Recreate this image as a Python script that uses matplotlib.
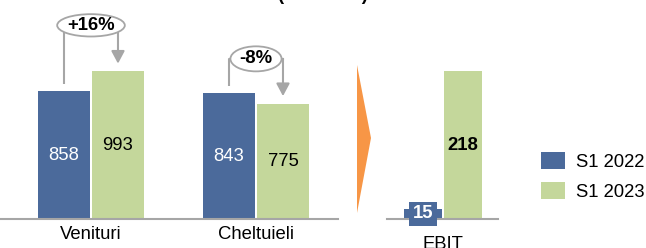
import matplotlib.pyplot as plt
from matplotlib.patches import Ellipse, Polygon, Patch

plt.rcParams['font.family'] = ['Liberation Sans', 'DejaVu Sans']

categories = ['Venituri', 'Cheltuieli']
s1_2022 = [858, 843]
s1_2023 = [993, 775]
changes = ['+16%', '-8%']
ebit_label = ['EBIT']
ebit_2022 = [15]
ebit_2023 = [218]
series = ['S1 2022', 'S1 2023']

BLUE = '#4B6A9B'
GREEN = '#C4D79B'
ORANGE = '#F79646'
GRAY = '#A6A6A6'
FS = 13.3

W, H = 646, 248
fig = plt.figure(figsize=(W / 100, H / 100), dpi=100)


def fx(px):
    return px / W


def fy(py):
    return 1 - py / H


# left panel: revenues / expenses
ax1 = fig.add_axes([0, fy(219), fx(338), 219 / H])
x = list(range(len(categories)))
bw, off = 0.315, 0.1636
ax1.bar([i - off for i in x], s1_2022, bw, color=BLUE)
ax1.bar([i + off for i in x], s1_2023, bw, color=GREEN)
for i in x:
    ax1.text(i - off, s1_2022[i] / 2, str(s1_2022[i]), ha='center', va='center',
             color='white', fontsize=FS)
    ax1.text(i + off, s1_2023[i] / 2, str(s1_2023[i]), ha='center', va='center',
             color='black', fontsize=FS)
ax1.set_xlim(-0.5515, 1.497)
ax1.set_ylim(0, 1470)

# change callouts
callout_y = [1300, 1075]
ell_w = [0.41, 0.31]
ell_h = [150, 168]
for i in x:
    yc = callout_y[i]
    ax1.plot([i - off, i - off, i], [s1_2022[i] + 50, yc, yc], color=GRAY, lw=1.5,
             solid_capstyle='butt', zorder=3)
    ax1.plot([i, i + off], [yc, yc], color=GRAY, lw=1.5, zorder=3)
    ax1.annotate('', xy=(i + off, s1_2023[i] + 50), xytext=(i + off, yc),
                 arrowprops=dict(arrowstyle='-|>,head_length=0.75,head_width=0.4',
                                 color=GRAY, lw=1.5, shrinkA=0, shrinkB=0), zorder=3)
    ax1.add_patch(Ellipse((i, yc), ell_w[i], ell_h[i], facecolor='white',
                          edgecolor=GRAY, lw=1.3, zorder=4))
    ax1.text(i, yc, changes[i], ha='center', va='center', fontsize=FS,
             fontweight='bold', zorder=5)

ax1.set_xticks(x)
ax1.set_xticklabels(categories, fontsize=FS)
ax1.tick_params(axis='x', length=0, pad=5)
ax1.set_yticks([])

# right panel: EBIT
ax2 = fig.add_axes([fx(387), fy(219), 111 / W, 219 / H])
ax2.bar([-0.20], ebit_2022, 0.38, color=BLUE)
ax2.bar([0.20], ebit_2023, 0.38, color=GREEN)
ax2.text(-0.20, ebit_2022[0] / 2, str(ebit_2022[0]), ha='center', va='center',
         color='white', fontsize=FS, fontweight='bold', zorder=5,
         bbox=dict(boxstyle='square,pad=0.2', facecolor=BLUE, edgecolor='none'))
ax2.text(0.20, ebit_2023[0] / 2, str(ebit_2023[0]), ha='center', va='center',
         color='black', fontsize=FS, fontweight='bold')
ax2.set_xlim(-0.56, 0.55)
ax2.set_ylim(0, 322.6)
ax2.set_xticks([0])
ax2.set_xticklabels(ebit_label, fontsize=FS)
ax2.tick_params(axis='x', length=0, pad=12)
ax2.set_yticks([])

for ax in (ax1, ax2):
    for s in ('top', 'left', 'right'):
        ax.spines[s].set_visible(False)
    ax.spines['bottom'].set_color(GRAY)
    ax.spines['bottom'].set_linewidth(1.5)
    ax.patch.set_alpha(0)

# orange chevron between panels
fig.patches.append(Polygon([(fx(357), fy(65)), (fx(371), fy(138)), (fx(357), fy(213))],
                           closed=True, facecolor=ORANGE, edgecolor='none',
                           transform=fig.transFigure))

# legend
handles = [Patch(facecolor=BLUE), Patch(facecolor=GREEN)]
fig.legend(handles, series, loc='center left', bbox_to_anchor=(fx(541), fy(176.5)),
           frameon=False, fontsize=FS, borderpad=0, borderaxespad=0,
           handlelength=1.3, handleheight=0.98, handletextpad=0.6, labelspacing=0.62)

# clipped title at the top
fig.text(fx(323), 1.0, '(mil. RON)', ha='center', va='baseline', fontsize=FS,
         fontweight='bold')

fig.savefig('out.png', dpi=100)
